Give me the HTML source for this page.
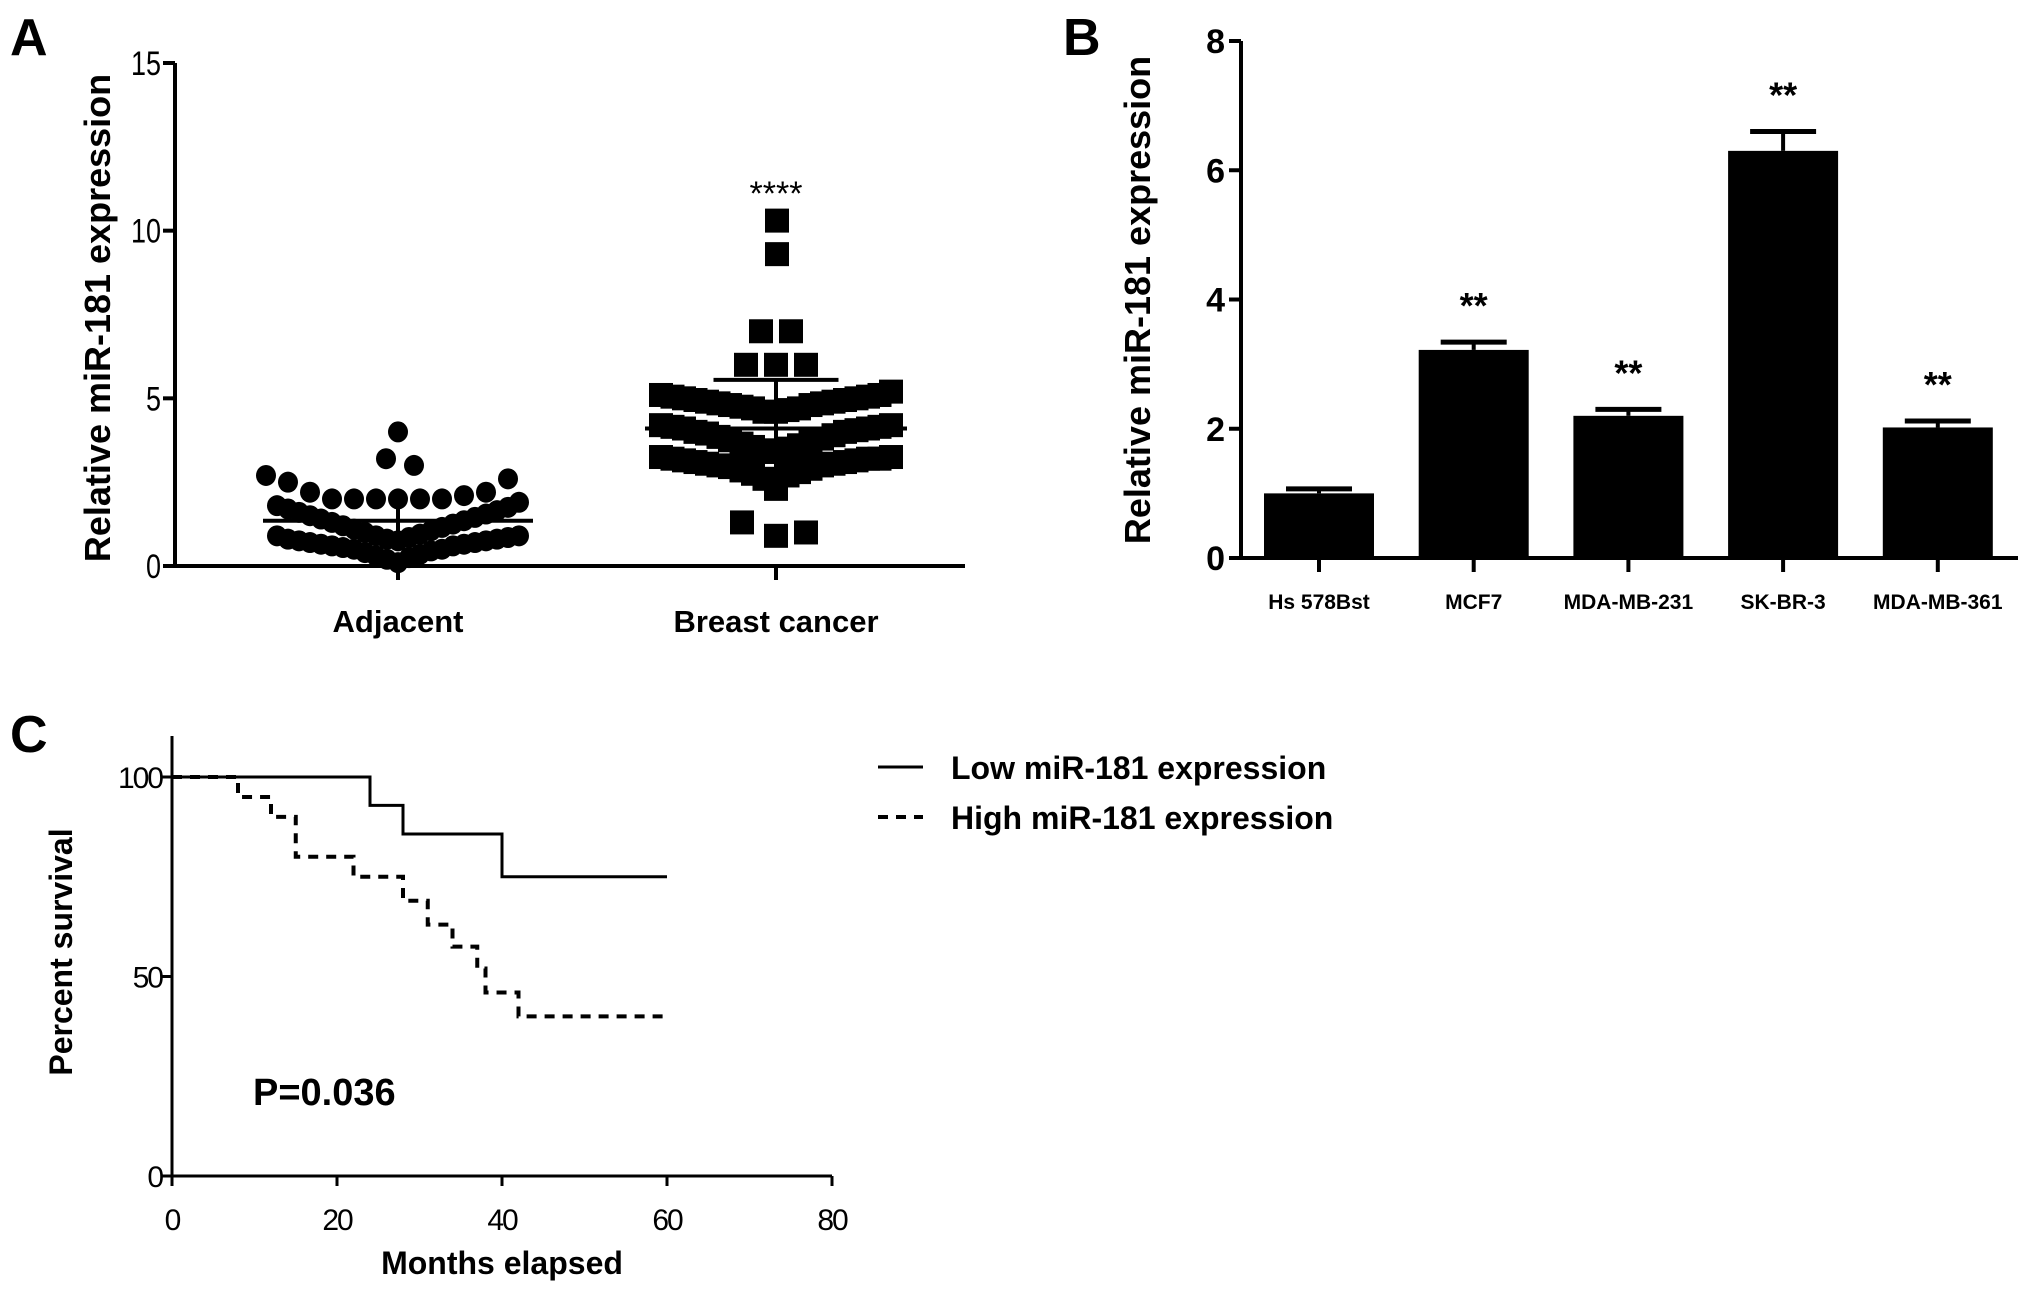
<!DOCTYPE html>
<html><head><meta charset="utf-8"><style>
html,body{margin:0;padding:0;background:#fff}
svg{display:block}
text{font-family:"Liberation Sans",Arial,sans-serif;fill:#000}
</style></head><body>
<svg id="fig" width="2031" height="1294" viewBox="0 0 2031 1294" xmlns="http://www.w3.org/2000/svg">
<g id="pa"></g>
<g id="pb"></g>
<g id="pc"></g>
</svg>
<script>
// ---------- Panel A data ----------
const adjBand1 = [0.1,0.2,0.25,0.3,0.35,0.4,0.45,0.5,0.5,0.55,0.6,0.6,0.65,0.65,0.7,0.7,0.75,0.75,0.8,0.8,0.85,0.9,0.9];
const adjBand2 = [0.75,0.8,0.85,0.9,0.95,1.0,1.05,1.1,1.15,1.2,1.25,1.3,1.35,1.4,1.45,1.5,1.55,1.6,1.65,1.7,1.75,1.8,1.9];
const adjBand3 = [2.0,2.0,2.0,2.0,2.0,2.0,2.1,2.2,2.2,2.5,2.6,2.7];
const adjTop = [4.0];
const adjPair = [3.2,3.0];
const brBand1 = [2.3,2.6,2.7,2.75,2.8,2.85,2.9,2.95,3.0,3.0,3.05,3.05,3.1,3.1,3.15,3.15,3.2,3.2,3.2,3.25,3.25];
const brBand2 = [3.4,3.45,3.5,3.55,3.6,3.65,3.7,3.75,3.8,3.85,3.9,3.95,4.0,4.0,4.05,4.1,4.1,4.15,4.15,4.2,4.2];
const brBand3 = [4.6,4.6,4.65,4.7,4.7,4.75,4.8,4.8,4.85,4.85,4.9,4.9,4.95,4.95,5.0,5.0,5.05,5.05,5.1,5.1,5.2];
const brSix = [6.0,6.0,6.0];
const brSeven = [7.0,7.0];
const brHigh = [10.3,9.3];
const brLow = [0.9,1.3,1.0];
const adjMean = 1.35, adjSD = 0.55;
const brMean = 4.1, brSD = 1.45;
const aTicks = [0,5,10,15];
const aCats = ["Adjacent","Breast cancer"];

// ---------- Panel B data ----------
const bCats = ["Hs 578Bst","MCF7","MDA-MB-231","SK-BR-3","MDA-MB-361"];
const bVals = [1.0,3.22,2.2,6.3,2.02];
const bErr = [0.07,0.12,0.1,0.3,0.1];
const bStars = ["","**","**","**","**"];
const bTicks = [0,2,4,6,8];

// ---------- Panel C data ----------
const lowT = [0,24,28,40,60];
const lowS = [100,92.9,85.7,75,75];
const highT = [0,8,12,15,22,28,31,34,37,38,42,60];
const highS = [100,95,90,80,75,69,63,57.5,52,46,40,40];
const cXTicks = [0,20,40,60,80];
const cYTicks = [0,50,100];

const NS="http://www.w3.org/2000/svg";
function mk(parent,tag,attrs,txt){const e=document.createElementNS(NS,tag);for(const k in attrs)e.setAttribute(k,attrs[k]);if(txt!==undefined)e.textContent=txt;parent.appendChild(e);return e;}

// ===== Panel A =====
(function(){
const g=document.getElementById('pa');
const X0=175,Y0=566,Y15=63,XE=965;
const y=v=>Y0-(v/15)*(Y0-Y15);
const cx=[398,776];
let t=mk(g,'text',{x:10,y:55,'font-size':52,'font-weight':'bold'},'A');

let ax=mk(g,'line',{x1:X0,y1:Y15,x2:X0,y2:Y0+2,stroke:'#000','stroke-width':4});

let xa=mk(g,'line',{x1:X0-2,y1:Y0,x2:XE,y2:Y0,stroke:'#000','stroke-width':4});

aTicks.forEach(v=>{
 let l=mk(g,'line',{x1:X0-12,y1:y(v),x2:X0,y2:y(v),stroke:'#000','stroke-width':4});
 
 const s=String(v);
 let tx=mk(g,'text',{x:X0-14,y:y(v)+12,'font-size':34,'text-anchor':'end',textLength:s.length*15,lengthAdjust:'spacingAndGlyphs'},s);
 
});
aCats.forEach((c,i)=>{
 let l=mk(g,'line',{x1:cx[i],y1:Y0,x2:cx[i],y2:Y0+14,stroke:'#000','stroke-width':4});
 
 let tx=mk(g,'text',{x:cx[i],y:632,'font-size':31,'font-weight':'bold','text-anchor':'middle'},c);
 
});
let yt=mk(g,'text',{x:0,y:0,'font-size':36,'font-weight':'bold','text-anchor':'middle',transform:'translate(110,318) rotate(-90)'},'Relative miR-181 expression');

function band(vals,center,step,shape,size,name){
 vals.forEach((v,i)=>{
  const k=Math.ceil(i/2), sgn=(i%2===1)?-1:1;
  const px=center+sgn*k*step, py=y(v);
  let e;
  if(shape==='c'){e=mk(g,'ellipse',{cx:px,cy:py,rx:size/2,ry:size/2*1.05,fill:'#000'});}
  else{e=mk(g,'rect',{x:px-size/2,y:py-size/2,width:size,height:size,fill:'#000'});}
  
  
 });
}
band(adjBand1,cx[0],11,'c',20,'adjacent-point');
band(adjBand2,cx[0],11,'c',20,'adjacent-point');
band(adjBand3,cx[0],22,'c',20,'adjacent-point');
band(adjTop,cx[0],24,'c',20,'adjacent-point');
band(adjPair.slice(0,1),cx[0]-12,24,'c',20,'adjacent-point');
band(adjPair.slice(1),cx[0]+16,24,'c',20,'adjacent-point');
band(brBand1,cx[1],11.5,'s',24,'breast-cancer-point');
band(brBand2,cx[1],11.5,'s',24,'breast-cancer-point');
band(brBand3,cx[1],11.5,'s',24,'breast-cancer-point');
band(brSix,cx[1],30,'s',24,'breast-cancer-point');
band(brSeven.slice(0,1),cx[1]-15,30,'s',24,'breast-cancer-point');
band(brSeven.slice(1),cx[1]+15,30,'s',24,'breast-cancer-point');
band(brHigh.slice(0,1),cx[1]+1,30,'s',24,'breast-cancer-point');
band(brHigh.slice(1),cx[1]+1,30,'s',24,'breast-cancer-point');
band(brLow.slice(0,1),cx[1],30,'s',24,'breast-cancer-point');
band(brLow.slice(1,2),cx[1]-34,30,'s',24,'breast-cancer-point');
band(brLow.slice(2),cx[1]+30,30,'s',24,'breast-cancer-point');
function stat(c,m,sd,mw,cw,name){
 let a=mk(g,'line',{x1:c-mw/2,y1:y(m),x2:c+mw/2,y2:y(m),stroke:'#000','stroke-width':4});
 
 let b=mk(g,'line',{x1:c,y1:y(m-sd),x2:c,y2:y(m+sd),stroke:'#000','stroke-width':4});
 
 let d=mk(g,'line',{x1:c-cw/2,y1:y(m+sd),x2:c+cw/2,y2:y(m+sd),stroke:'#000','stroke-width':4});
 
}
stat(cx[0],adjMean,adjSD,270,0,'adjacent');
stat(cx[1],brMean,brSD,262,125,'breast-cancer');
let st=mk(g,'text',{x:cx[1],y:205,'font-size':34,'text-anchor':'middle'},'****');

})();

// ===== Panel B =====
(function(){
const g=document.getElementById('pb');
const X0=1241,Y0=558,Y8=41,XE=2018;
const y=v=>Y0-(v/8)*(Y0-Y8);
const cx=i=>1319+i*154.7;
let t=mk(g,'text',{x:1063,y:55,'font-size':52,'font-weight':'bold'},'B');

let ax=mk(g,'line',{x1:X0,y1:Y8,x2:X0,y2:Y0+2,stroke:'#000','stroke-width':4});

let xa=mk(g,'line',{x1:X0-2,y1:Y0,x2:XE,y2:Y0,stroke:'#000','stroke-width':4});

bTicks.forEach(v=>{
 let l=mk(g,'line',{x1:X0-12,y1:y(v),x2:X0,y2:y(v),stroke:'#000','stroke-width':4});
 
 let tx=mk(g,'text',{x:X0-16,y:y(v)+12,'font-size':34,'font-weight':'bold','text-anchor':'end'},String(v));
 
});
let yt=mk(g,'text',{x:0,y:0,'font-size':36,'font-weight':'bold','text-anchor':'middle',transform:'translate(1150,300) rotate(-90)'},'Relative miR-181 expression');

bCats.forEach((c,i)=>{
 const w=110;
 let b=mk(g,'rect',{x:cx(i)-w/2,y:y(bVals[i]),width:w,height:Y0-y(bVals[i]),fill:'#000'});
 
 let e=mk(g,'line',{x1:cx(i),y1:y(bVals[i]),x2:cx(i),y2:y(bVals[i]+bErr[i]),stroke:'#000','stroke-width':4});
 
 let cp=mk(g,'line',{x1:cx(i)-w*0.3,y1:y(bVals[i]+bErr[i]),x2:cx(i)+w*0.3,y2:y(bVals[i]+bErr[i]),stroke:'#000','stroke-width':5});
 
 let tk=mk(g,'line',{x1:cx(i),y1:Y0,x2:cx(i),y2:Y0+14,stroke:'#000','stroke-width':4});
 
 let tx=mk(g,'text',{x:cx(i),y:609,'font-size':21,'font-weight':'bold','text-anchor':'middle'},c);
 
 if(bStars[i]){
  let s=mk(g,'text',{x:cx(i),y:y(bVals[i]+bErr[i])-24,'font-size':36,'font-weight':'bold','text-anchor':'middle'},bStars[i]);
  
 }
});
})();

// ===== Panel C =====
(function(){
const g=document.getElementById('pc');
const X0=172,X80=832,Y0=1176,Y100=777;
const x=v=>X0+(v/80)*(X80-X0);
const y=v=>Y0-(v/100)*(Y0-Y100);
let t=mk(g,'text',{x:10,y:752,'font-size':52,'font-weight':'bold'},'C');

let ax=mk(g,'line',{x1:X0,y1:736,x2:X0,y2:Y0+2,stroke:'#000','stroke-width':3});

let xa=mk(g,'line',{x1:X0-2,y1:Y0,x2:X80,y2:Y0,stroke:'#000','stroke-width':3});

cYTicks.forEach(v=>{
 let l=mk(g,'line',{x1:X0-10,y1:y(v),x2:X0,y2:y(v),stroke:'#000','stroke-width':3});
 
 let tx=mk(g,'text',{x:X0-10,y:y(v)+11,'font-size':30,'text-anchor':'end','letter-spacing':-2},String(v));
 
});
cXTicks.forEach(v=>{
 let l=mk(g,'line',{x1:x(v),y1:Y0,x2:x(v),y2:Y0+10,stroke:'#000','stroke-width':3});
 
 let tx=mk(g,'text',{x:x(v),y:1230,'font-size':30,'text-anchor':'middle','letter-spacing':-2},String(v));
 
});
let xt=mk(g,'text',{x:502,y:1274,'font-size':32,'font-weight':'bold','text-anchor':'middle'},'Months elapsed');

let yt=mk(g,'text',{x:0,y:0,'font-size':32,'font-weight':'bold','text-anchor':'middle',transform:'translate(72,952) rotate(-90)'},'Percent survival');

function steps(T,S){let d='M'+x(T[0])+','+y(S[0]);for(let i=1;i<T.length;i++){d+=' H'+x(T[i])+' V'+y(S[i]);}return d;}
let lo=mk(g,'path',{d:steps(lowT,lowS),fill:'none',stroke:'#000','stroke-width':3});

let hi=mk(g,'path',{d:steps(highT,highS),fill:'none',stroke:'#000','stroke-width':4,'stroke-dasharray':'10,8'});

let p=mk(g,'text',{x:253,y:1105,'font-size':38,'font-weight':'bold'},'P=0.036');

let l1=mk(g,'line',{x1:878,y1:767,x2:923,y2:767,stroke:'#000','stroke-width':3});

let t1=mk(g,'text',{x:951,y:779,'font-size':32,'font-weight':'bold'},'Low miR-181 expression');

let l2=mk(g,'line',{x1:878,y1:817,x2:923,y2:817,stroke:'#000','stroke-width':4,'stroke-dasharray':'10,8'});

let t2=mk(g,'text',{x:951,y:829,'font-size':32,'font-weight':'bold'},'High miR-181 expression');

})();
</script>
</body></html>
